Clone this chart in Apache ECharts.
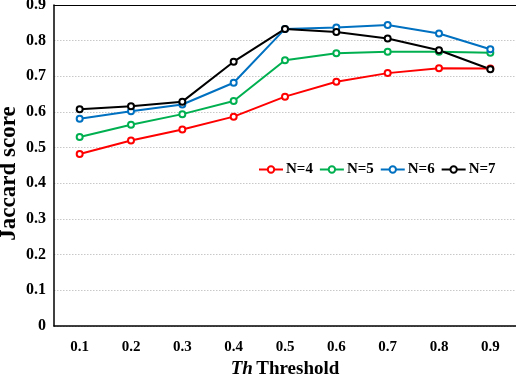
<!DOCTYPE html>
<html><head><meta charset="utf-8">
<script src="https://cdn.jsdelivr.net/npm/echarts@6/dist/echarts.min.js"></script>
<style>html,body{margin:0;padding:0;background:#fff}#c{width:516px;height:374px}</style>
</head><body><div id="c"></div>
<script>
const categories = ['0.1','0.2','0.3','0.4','0.5','0.6','0.7','0.8','0.9'];
const n4 = [0.482,0.520,0.551,0.587,0.643,0.685,0.709,0.723,0.722];
const n5 = [0.530,0.564,0.594,0.631,0.745,0.765,0.769,0.769,0.766];
const n6 = [0.581,0.602,0.621,0.682,0.833,0.837,0.844,0.820,0.776];
const n7 = [0.608,0.616,0.629,0.741,0.833,0.824,0.806,0.773,0.720];
const seriesNames = ['N=4','N=5','N=6','N=7'];
const colors = ['#FF0000','#00B050','#0070C0','#000000'];

const font = 'Liberation Serif';
const chart = echarts.init(document.getElementById('c'));
const mk = (name, data, color) => ({
  name, type: 'line', data, color,
  symbol: 'emptyCircle', symbolSize: 6,
  lineStyle: { width: 2, color },
  itemStyle: { color, borderWidth: 1.2 },
  emphasis: { disabled: true }
});
chart.setOption({
  animation: false,
  backgroundColor: '#fff',
  grid: { left: 54, right: 0, top: 5, bottom: 48, outerBoundsMode: 'none', containLabel: false },
  legend: {
    data: seriesNames,
    left: 253, top: 157,
    itemWidth: 24, itemHeight: 8, itemGap: 6,
    textStyle: { fontFamily: font, fontWeight: 'bold', fontSize: 15, color: '#000', padding: [0,0,0,-2] }
  },
  xAxis: [{
    type: 'category', data: categories, boundaryGap: true,
    axisLine: { lineStyle: { color: '#000', width: 1.5 } },
    axisTick: { show: false },
    axisLabel: { fontFamily: font, fontWeight: 'bold', fontSize: 15, color: '#000', margin: 14 },
    name: '{i|Th} {b|Threshold}', nameLocation: 'middle', nameGap: 30,
    nameTextStyle: { rich: {
      i: { fontFamily: font, fontWeight: 'bold', fontStyle: 'italic', fontSize: 19, color: '#000' },
      b: { fontFamily: font, fontWeight: 'bold', fontSize: 19, color: '#000' } } }
  }, {
    type: 'category', data: categories, position: 'top',
    axisLine: { lineStyle: { color: '#000', width: 1 } },
    axisTick: { show: false }, axisLabel: { show: false }
  }],
  yAxis: {
    type: 'value', min: 0, max: 0.9, interval: 0.1,
    axisLine: { show: true, lineStyle: { color: '#000', width: 1.5 } },
    axisTick: { show: false },
    axisLabel: { fontFamily: font, fontWeight: 'bold', fontSize: 16, color: '#000', margin: 8,
      formatter: v => v === 0 ? '0' : v.toFixed(1) },
    splitLine: { lineStyle: { color: '#c8c8c8', type: [1.5, 1.5], width: 1 } },
    name: 'Jaccard score', nameLocation: 'middle', nameGap: 33, nameMoveOverlap: false,
    nameTextStyle: { fontFamily: font, fontWeight: 'bold', fontSize: 23, color: '#000', padding: [0, 16, 0, 0] }
  },
  series: [mk(seriesNames[0], n4, colors[0]), mk(seriesNames[1], n5, colors[1]),
           mk(seriesNames[2], n6, colors[2]), mk(seriesNames[3], n7, colors[3])]
});
</script></body></html>
